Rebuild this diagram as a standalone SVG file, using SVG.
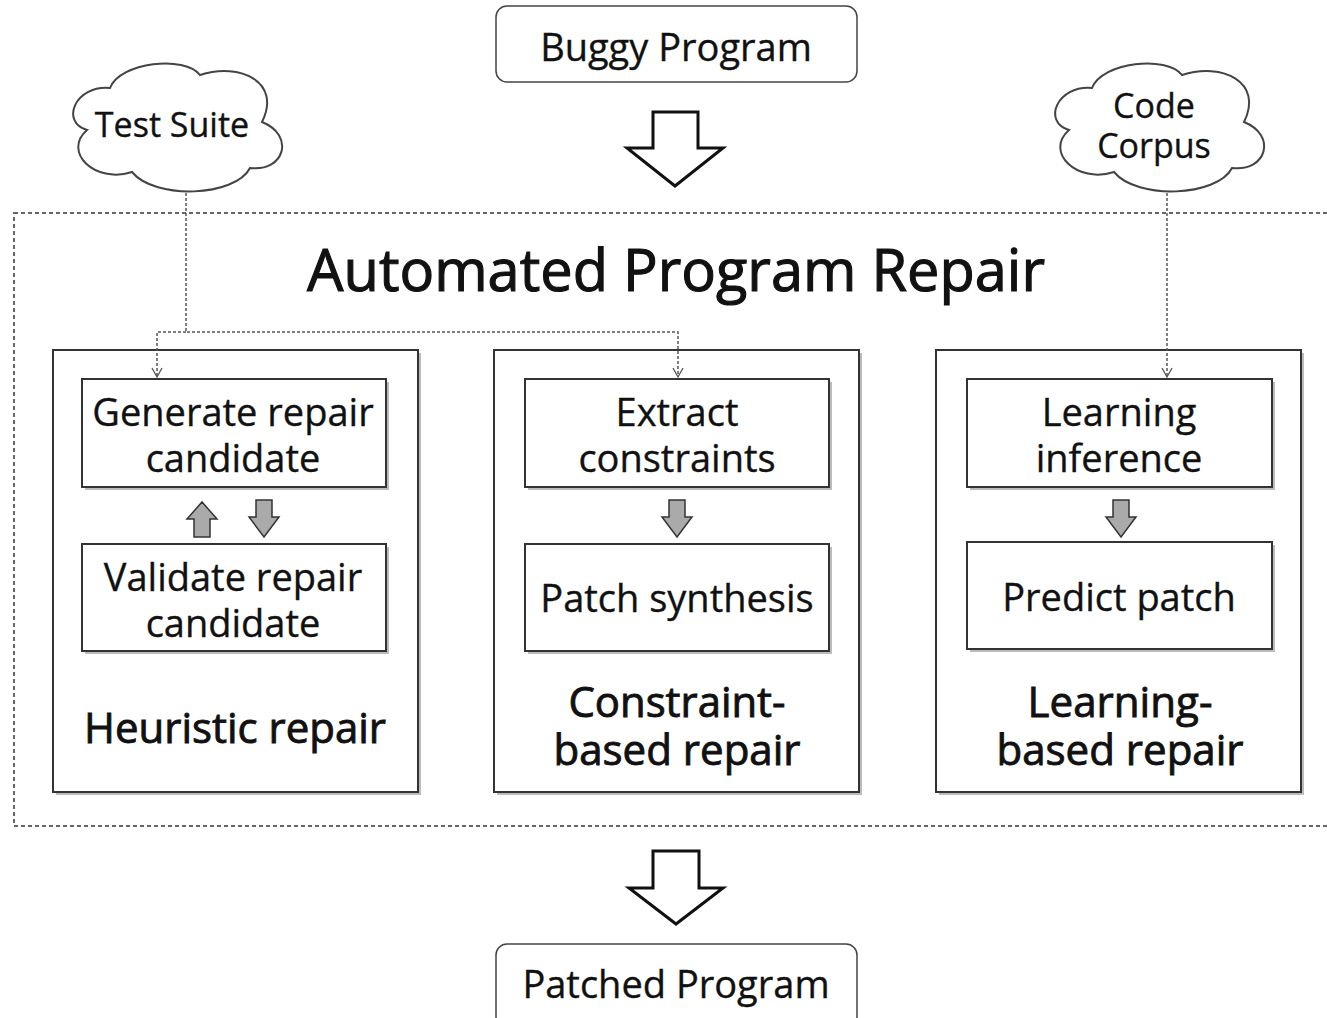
<svg xmlns="http://www.w3.org/2000/svg" width="1327" height="1018" viewBox="0 0 1327 1018">
<defs>
<style>
text{font-family:"Open Sans","Noto Sans","DejaVu Sans",sans-serif;fill:#111;text-anchor:middle;stroke:#111;stroke-width:0.35}
.t34{font-size:34px}
.t38{font-size:38px}
.lbl{font-size:42px;stroke-width:0.9}
.title{font-size:58px;stroke-width:1.1}
.box{fill:#fff;stroke:#333;stroke-width:2}
.shadow{fill:#bbb;stroke:none}
.rbox{fill:#fff;stroke:#444;stroke-width:1.5}
.cloud{fill:#fff;stroke:#444;stroke-width:2}
.big{fill:#fff;stroke:#111;stroke-width:3;stroke-linejoin:miter}
.small{fill:#aaa;stroke:#333;stroke-width:1.5}
.dot{fill:none;stroke:#555;stroke-width:1.5;stroke-dasharray:3 2}
.head{fill:none;stroke:#555;stroke-width:1.3}
.outer{fill:none;stroke:#666;stroke-width:2;stroke-dasharray:4 3}
</style>
<path id="cloudShape" d="M 87 130 C 60 122, 75 85, 110 88 C 120 62, 185 55, 200 75 C 240 62, 282 82, 262 122 C 295 135, 285 172, 250 168 C 235 197, 155 200, 132 172 C 95 184, 62 152, 87 130 Z"/>
</defs>

<rect class="outer" x="14" y="213" width="1330" height="613"/>

<g id="buggy">
<rect class="rbox" x="496" y="6" width="361" height="76" rx="11"/>
<text class="t38" x="676" y="61">Buggy Program</text>
</g>

<g id="arrow-in">
<path class="big" d="M653 112 H698 V148 H723 L675 186 L627 148 H653 Z"/>
</g>

<g id="test-suite">
<use href="#cloudShape" class="cloud"/>
<text class="t34" x="172" y="137">Test Suite</text>
</g>

<g id="code-corpus">
<use href="#cloudShape" class="cloud" transform="translate(982 0)"/>
<text class="t34" x="1154"><tspan x="1154" y="118">Code</tspan><tspan x="1154" y="158">Corpus</tspan></text>
</g>

<text class="title" x="676" y="291" textLength="738" lengthAdjust="spacingAndGlyphs">Automated Program Repair</text>

<g id="heuristic">
<rect class="shadow" x="56" y="353" width="365" height="442"/>
<rect class="box" x="53" y="350" width="365" height="442"/>
<text class="lbl" x="235" y="743" textLength="302" lengthAdjust="spacingAndGlyphs">Heuristic repair</text>
</g>
<g id="generate">
<rect class="shadow" x="85" y="382" width="304" height="108"/>
<rect class="box" x="82" y="379" width="304" height="108"/>
<text class="t38"><tspan x="233" y="426">Generate repair</tspan><tspan x="233" y="472">candidate</tspan></text>
</g>
<g id="validate">
<rect class="shadow" x="85" y="547" width="304" height="107"/>
<rect class="box" x="82" y="544" width="304" height="107"/>
<text class="t38"><tspan x="233" y="591">Validate repair</tspan><tspan x="233" y="637">candidate</tspan></text>
</g>

<g id="constraint">
<rect class="shadow" x="497" y="353" width="365" height="442"/>
<rect class="box" x="494" y="350" width="365" height="442"/>
<text class="lbl"><tspan x="677" y="717" textLength="217" lengthAdjust="spacingAndGlyphs">Constraint-</tspan><tspan x="677" y="765" textLength="247" lengthAdjust="spacingAndGlyphs">based repair</tspan></text>
</g>
<g id="extract">
<rect class="shadow" x="528" y="382" width="304" height="108"/>
<rect class="box" x="525" y="379" width="304" height="108"/>
<text class="t38"><tspan x="677" y="426">Extract</tspan><tspan x="677" y="472">constraints</tspan></text>
</g>
<g id="synthesis">
<rect class="shadow" x="528" y="547" width="304" height="107"/>
<rect class="box" x="525" y="544" width="304" height="107"/>
<text class="t38" x="677" y="612">Patch synthesis</text>
</g>

<g id="learning">
<rect class="shadow" x="939" y="353" width="365" height="442"/>
<rect class="box" x="936" y="350" width="365" height="442"/>
<text class="lbl"><tspan x="1120" y="717" textLength="185" lengthAdjust="spacingAndGlyphs">Learning-</tspan><tspan x="1120" y="765" textLength="247" lengthAdjust="spacingAndGlyphs">based repair</tspan></text>
</g>
<g id="inference">
<rect class="shadow" x="970" y="382" width="305" height="108"/>
<rect class="box" x="967" y="379" width="305" height="108"/>
<text class="t38"><tspan x="1119" y="426">Learning</tspan><tspan x="1119" y="472">inference</tspan></text>
</g>
<g id="predict">
<rect class="shadow" x="970" y="545" width="305" height="107"/>
<rect class="box" x="967" y="542" width="305" height="107"/>
<text class="t38" x="1119" y="611">Predict patch</text>
</g>

<g id="arrow-out">
<path class="big" d="M653 851 H699 V888 H723 L676 924 L629 888 H653 Z"/>
</g>

<g id="patched">
<rect class="rbox" x="496" y="944" width="361" height="84" rx="11"/>
<text class="t38" x="676" y="998">Patched Program</text>
</g>

<g id="connectors">
<path class="dot" d="M186 193 V332 H678 V376"/>
<path class="dot" d="M186 332 H157 V376"/>
<path class="head" d="M152 368 L157 377 L162 368"/>
<path class="head" d="M673 368 L678 377 L683 368"/>
<path class="dot" d="M1167 193 V376"/>
<path class="head" d="M1162 368 L1167 377 L1172 368"/>
<path class="small" d="M194 537 V519 H187 L202 502 L217 519 H210 V537 Z"/>
<path class="small" d="M256 500 V517 H249 L264 537 L279 517 H272 V500 Z"/>
<path class="small" d="M669 500 V517 H662 L677 537 L692 517 H685 V500 Z"/>
<path class="small" d="M1113 500 V517 H1106 L1121 537 L1136 517 H1129 V500 Z"/>
</g>
</svg>
